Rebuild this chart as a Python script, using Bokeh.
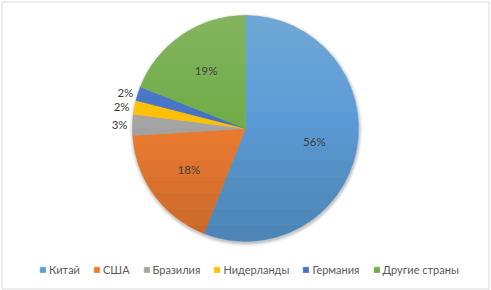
import numpy as np
from bokeh.plotting import figure
from bokeh.models import Legend, LegendItem, ColumnDataSource, Range1d
from bokeh.core.properties import value
from bokeh.embed import file_html
from bokeh.resources import INLINE

# ---- data ----
countries = ["Китай", "США", "Бразилия", "Нидерланды", "Германия", "Другие страны"]
shares = [56, 18, 3, 2, 2, 19]
share_labels = ["56%", "18%", "3%", "2%", "2%", "19%"]
colors = ["#5B9BD5", "#ED7D31", "#A5A5A5", "#FFC000", "#4472C4", "#70AD47"]

W, H = 491, 290
CX, CY, R = 245, 162, 113
FONT = "Lato"

p = figure(width=W, height=H, output_backend="svg", toolbar_location=None,
           x_range=Range1d(0, W), y_range=Range1d(0, H), min_border=0,
           background_fill_color="white", border_fill_color="white")
p.axis.visible = False
p.grid.visible = False
p.outline_line_color = None

# chart border
p.quad(left=[1.5], right=[488.5], bottom=[H - 288.5], top=[H - 1.5],
       fill_color=None, line_color="#D9D9D9", line_width=1)

# soft shadow
for k, a in [(3.5, 0.04), (2.5, 0.05), (1.5, 0.07), (0.5, 0.08)]:
    p.circle(x=[CX + 0.5], y=[CY - 1.5], radius=R + k, fill_color="black",
             fill_alpha=a, line_color=None)

# wedges
vals = np.array(shares, dtype=float)
frac = vals / vals.sum()
cum = np.concatenate([[0], np.cumsum(frac)])
start = np.pi / 2 - cum[:-1] * 2 * np.pi
end = np.pi / 2 - cum[1:] * 2 * np.pi
mid = (start + end) / 2
src = ColumnDataSource(dict(start=start, end=end, color=colors, name=countries))
wr = p.wedge(x=CX, y=CY, radius=R, start_angle="start", end_angle="end",
             direction="clock", fill_color="color", line_color="color",
             line_width=0.5, source=src)

# gradient overlay (light at top, darker at bottom)
def segment(y_from, y_to):
    ys = np.linspace(y_from, y_to, 60)
    xs = np.sqrt(np.clip(R**2 - ys**2, 0, None))
    px = np.concatenate([CX + xs, (CX - xs)[::-1]])
    py = np.concatenate([CY + ys, (CY + ys)[::-1]])
    return list(px), list(py)

n = 14
levels = np.linspace(R, -R, n + 1)[1:-1]
for lv in levels:
    if lv > 0:
        xs_, ys_ = segment(R, lv)
        p.patch(xs_, ys_, fill_color="white", fill_alpha=0.022, line_color=None)
    else:
        xs_, ys_ = segment(lv, -R)
        p.patch(xs_, ys_, fill_color="black", fill_alpha=0.018, line_color=None)

# percentage labels
lx, ly, la = [], [], []
for i, v in enumerate(shares):
    if v >= 5:
        r = 0.62 * R
        lx.append(CX + r * np.cos(mid[i]))
        ly.append(CY + r * np.sin(mid[i]))
        la.append("center")
    else:
        r = R + 5
        lx.append(CX + r * np.cos(mid[i]))
        ly.append(CY + r * np.sin(mid[i]))
        la.append("right")
p.text(x=lx, y=ly, text=share_labels, text_align=la, text_baseline="middle",
       text_font=value(FONT), text_font_size="11.5px", text_color="#404040")

# legend
items = [LegendItem(label=c, renderers=[wr], index=i) for i, c in enumerate(countries)]
legend = Legend(items=items, orientation="horizontal", location=(39, 14),
                glyph_width=7, glyph_height=7, label_standoff=3, spacing=13,
                padding=0, margin=0, border_line_color=None,
                background_fill_alpha=0, label_text_font=FONT,
                label_text_font_size="11px", label_text_color="#595959",
                label_height=13)
p.add_layout(legend, "center")

open("out.html", "w").write(file_html(p, INLINE))
